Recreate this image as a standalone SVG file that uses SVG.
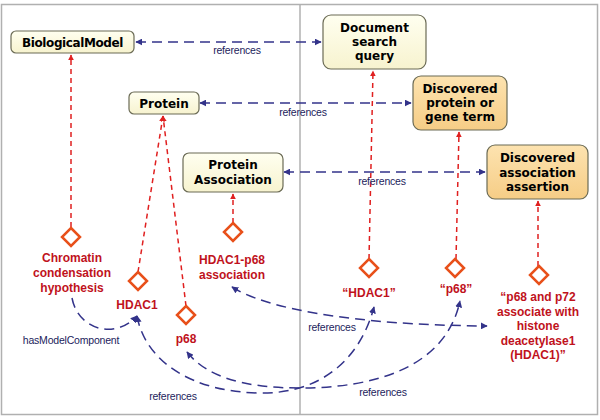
<svg xmlns="http://www.w3.org/2000/svg" width="600" height="420" viewBox="0 0 600 420">
<defs>
<marker id="ar" viewBox="0 0 10 10" refX="9" refY="5" markerWidth="6" markerHeight="6" markerUnits="userSpaceOnUse" orient="auto-start-reverse"><path d="M0,0 L10,5 L0,10 Z" fill="#e02020"/></marker>
<marker id="ab" viewBox="0 0 10 10" refX="9" refY="5" markerWidth="7" markerHeight="7" markerUnits="userSpaceOnUse" orient="auto-start-reverse"><path d="M0,0 L10,5 L0,10 Z" fill="#33338a"/></marker>
<linearGradient id="gc" x1="0" y1="0" x2="0" y2="1"><stop offset="0" stop-color="#fffff0"/><stop offset="1" stop-color="#f7f3cf"/></linearGradient>
<linearGradient id="go" x1="0" y1="0" x2="0" y2="1"><stop offset="0" stop-color="#fde3b0"/><stop offset="1" stop-color="#f6cd86"/></linearGradient>
</defs>
<style>
.n rect{stroke:#6b6b55;stroke-width:1.2}
.c{fill:url(#gc)}
.o{fill:url(#go)}
.nt{font-family:"DejaVu Sans",Verdana,sans-serif;font-weight:bold;font-size:12px;fill:#000;text-anchor:middle}
.rt{font-family:"Liberation Sans",Arial,sans-serif;font-weight:bold;font-size:12px;fill:#c0121c;text-anchor:middle}
.bt{font-family:"Liberation Sans",Arial,sans-serif;font-size:10.5px;fill:#1c1c5c;text-anchor:middle;letter-spacing:-0.2px}
.dm{fill:#fff;stroke:#e8501a;stroke-width:2.5}
.rl{fill:none;stroke:#e02020;stroke-width:1.5;stroke-dasharray:5,4}
.bl{fill:none;stroke:#33338a;stroke-width:1.5;stroke-dasharray:10,6}
</style>
<rect x="1.5" y="4.5" width="596" height="410" fill="#fff" stroke="#b0b0b0" stroke-width="1.5"/>
<line x1="300" y1="4.5" x2="300" y2="414.5" stroke="#b0b0b0" stroke-width="1.5"/>

<g id="connectors">
<path class="rl" d="M71,227 L71,55" marker-end="url(#ar)"/>
<path class="rl" d="M138,272 L163,116" marker-end="url(#ar)"/>
<path class="rl" d="M186,306 L163,116" marker-end="url(#ar)"/>
<path class="rl" d="M233,223 L233,194" marker-end="url(#ar)"/>
<path class="rl" d="M369,259 L373,71" marker-end="url(#ar)"/>
<path class="rl" d="M456,259 L459,132" marker-end="url(#ar)"/>
<path class="rl" d="M538,266 L538,201" marker-end="url(#ar)"/>
<path class="bl" d="M136,42 L321,42" marker-start="url(#ab)" marker-end="url(#ab)"/>
<path class="bl" d="M200,103 L411,103" marker-start="url(#ab)" marker-end="url(#ab)"/>
<path class="bl" d="M284,172 L485,172" marker-start="url(#ab)" marker-end="url(#ab)"/>
<path class="bl" d="M72,298 C78,330 115,340 137,316" marker-end="url(#ab)"/>
<path class="bl" d="M137,316 C145,360 190,392 260,393 C320,394 360,360 374,307" marker-start="url(#ab)" marker-end="url(#ab)"/>
<path class="bl" d="M187,352 C205,375 240,388 300,388 C370,388 445,370 460,301" marker-start="url(#ab)" marker-end="url(#ab)"/>
<path class="bl" d="M232,287 C265,308 350,325 487,326" marker-start="url(#ab)" marker-end="url(#ab)"/>
<text class="bt" x="237" y="54">references</text>
<text class="bt" x="303" y="116">references</text>
<text class="bt" x="382" y="185">references</text>
<text class="bt" x="332" y="331">references</text>
<text class="bt" x="173" y="400">references</text>
<text class="bt" x="383" y="396">references</text>
<text class="bt" x="71" y="344">hasModelComponent</text>
</g>

<g id="BiologicalModel" class="n"><rect class="c" x="11" y="31" width="123" height="22" rx="5"/><text class="nt" x="72.5" y="47" style="letter-spacing:-0.4px">BiologicalModel</text></g>
<g id="Protein" class="n"><rect class="c" x="129" y="92" width="70" height="22" rx="5"/><text class="nt" x="164" y="108">Protein</text></g>
<g id="DocumentSearchQuery" class="n"><rect class="c" x="323" y="15" width="103" height="54" rx="8"/><text class="nt" x="374.5" y="32">Document</text><text class="nt" x="374.5" y="46">search</text><text class="nt" x="374.5" y="60">query</text></g>
<g id="DiscoveredProtein" class="n"><rect class="o" x="413" y="76" width="94" height="54" rx="8"/><text class="nt" x="460" y="93">Discovered</text><text class="nt" x="460" y="107">protein or</text><text class="nt" x="460" y="121">gene term</text></g>
<g id="ProteinAssociation" class="n"><rect class="c" x="183" y="153" width="100" height="39" rx="6"/><text class="nt" x="233" y="169">Protein</text><text class="nt" x="233" y="184">Association</text></g>
<g id="DiscoveredAssociation" class="n"><rect class="o" x="487" y="145" width="101" height="54" rx="8"/><text class="nt" x="537.5" y="162">Discovered</text><text class="nt" x="537.5" y="177">association</text><text class="nt" x="537.5" y="191">assertion</text></g>

<g id="Chromatin"><polygon class="dm" points="71,228 80,237 71,246 62,237"/><text class="rt" x="72" y="262">Chromatin</text><text class="rt" x="72" y="277">condensation</text><text class="rt" x="72" y="292">hypothesis</text></g>
<g id="HDAC1"><polygon class="dm" points="138,272 147,281 138,290 129,281"/><text class="rt" x="137" y="309">HDAC1</text></g>
<g id="p68"><polygon class="dm" points="186,306 195,315 186,324 177,315"/><text class="rt" x="186" y="343">p68</text></g>
<g id="HDAC1-p68"><polygon class="dm" points="233,223 242,232 233,241 224,232"/><text class="rt" x="232" y="264">HDAC1-p68</text><text class="rt" x="232" y="279">association</text></g>
<g id="qHDAC1"><polygon class="dm" points="369,259 378,268 369,277 360,268"/><text class="rt" x="369" y="297">“HDAC1”</text></g>
<g id="qp68"><polygon class="dm" points="455,259 464,268 455,277 446,268"/><text class="rt" x="456" y="293">“p68”</text></g>
<g id="qp68p72"><polygon class="dm" points="539,266 548,275 539,284 530,275"/><text class="rt" x="538" y="301">“p68 and p72</text><text class="rt" x="538" y="315.5">associate with</text><text class="rt" x="538" y="330">histone</text><text class="rt" x="538" y="344.5">deacetylase1</text><text class="rt" x="538" y="359">(HDAC1)”</text></g>
</svg>
